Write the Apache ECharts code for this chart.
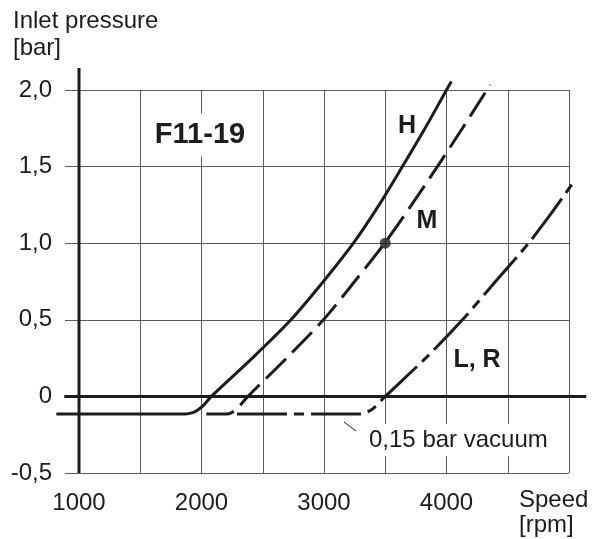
<!DOCTYPE html>
<html>
<head>
<meta charset="utf-8">
<script src="https://cdn.jsdelivr.net/npm/echarts@6/dist/echarts.min.js"></script>
<style>
  html, body { margin: 0; padding: 0; background: #fff; }
  #chart { width: 595px; height: 539px; }
</style>
</head>
<body>
<div id="chart"></div>
<script>
// values
const xTicks = [1000, 2000, 3000, 4000];
const xTickLabels = ['1000', '2000', '3000', '4000'];
const yTicks = [-0.5, 0, 0.5, 1.0, 1.5, 2.0];
const yTickLabels = ['-0,5', '0', '0,5', '1,0', '1,5', '2,0'];

// curve H (solid)
const hSpeed = [815, 1870, 1920, 1970, 2020, 2080, 2415, 2730, 2995, 3240, 3450, 3640, 3825, 4000, 4040];
const hPressure = [-0.115, -0.115, -0.108, -0.088, -0.055, 0, 0.25, 0.5, 0.75, 1.0, 1.25, 1.5, 1.75, 2.0, 2.055];

// curve M (dashed)
const mSpeed = [2040, 2200, 2250, 2300, 2379, 2695, 2995, 3250, 3495, 3715, 3925, 4130, 4330, 4358];
const mPressure = [-0.115, -0.115, -0.104, -0.072, 0, 0.25, 0.5, 0.75, 1.0, 1.25, 1.5, 1.75, 2.0, 2.033];

// curve L, R (dash-dot)
const lrSpeed = [2290, 3290, 3340, 3400, 3500, 3830, 4130, 4400, 4670, 4860, 5035];
const lrPressure = [-0.115, -0.115, -0.106, -0.08, 0, 0.25, 0.5, 0.75, 1.0, 1.2, 1.396];

// operating point on M
const pointSpeed = [3500];
const pointPressure = [1.0];

// zero line and vertical axis line
const zeroLineSpeed = [880, 5141];
const zeroLinePressure = [0, 0];
const axisLineSpeed = [1000, 1000];
const axisLinePressure = [-0.5, 2.144];

const zip = (xs, ys) => xs.map((x, i) => [x, ys[i]]);

const FONT = 'Liberation Sans, Arial, Helvetica, sans-serif';
const INK = '#1c1c1c';
const GRID = '#5a5a5a';

const chart = echarts.init(document.getElementById('chart'));

// grid 0 draws the visible axes; grid 1 has the same scale but a wider range,
// so the curves can run past the framed area like in the original sheet
const option = {
  animation: false,
  backgroundColor: '#fff',
  grid: [
    { left: 79, right: 26, top: 90, bottom: 66 },
    { left: 54.5, right: 1.5, top: 13.4, bottom: 66 }
  ],
  xAxis: [
    {
      gridIndex: 0,
      type: 'value',
      min: 1000,
      max: 5000,
      interval: 500,
      axisLine: { show: false },
      axisTick: { show: false },
      axisLabel: {
        margin: 18,
        fontSize: 24,
        fontFamily: FONT,
        color: INK,
        formatter: function (v) {
          const i = xTicks.indexOf(v);
          return i >= 0 ? xTickLabels[i] : '';
        }
      },
      splitLine: { show: true, lineStyle: { color: GRID, width: 1 } }
    },
    {
      gridIndex: 1,
      type: 'value',
      min: 800,
      max: 5200,
      show: false
    }
  ],
  yAxis: [
    {
      gridIndex: 0,
      type: 'value',
      min: -0.5,
      max: 2.0,
      interval: 0.5,
      axisLine: { show: false },
      axisTick: { show: true, length: 14, lineStyle: { color: GRID, width: 1 } },
      axisLabel: {
        margin: 27,
        fontSize: 24,
        fontFamily: FONT,
        color: INK,
        formatter: function (v) {
          const i = yTicks.findIndex(t => Math.abs(t - v) < 1e-6);
          return i >= 0 ? yTickLabels[i] : '';
        }
      },
      splitLine: { show: true, lineStyle: { color: GRID, width: 1 } }
    },
    {
      gridIndex: 1,
      type: 'value',
      min: -0.5,
      max: 2.5,
      show: false
    }
  ],
  series: [
    {
      name: 'zero',
      type: 'line',
      xAxisIndex: 1, yAxisIndex: 1,
      data: zip(zeroLineSpeed, zeroLinePressure),
      showSymbol: false,
      lineStyle: { color: INK, width: 3 },
      z: 3
    },
    {
      name: 'axis',
      type: 'line',
      xAxisIndex: 1, yAxisIndex: 1,
      data: zip(axisLineSpeed, axisLinePressure),
      showSymbol: false,
      lineStyle: { color: INK, width: 3 },
      z: 3
    },
    {
      name: 'H',
      type: 'line',
      xAxisIndex: 1, yAxisIndex: 1,
      data: zip(hSpeed, hPressure),
      showSymbol: false,
      smooth: 0.3,
      lineStyle: { color: INK, width: 3 },
      z: 4
    },
    {
      name: 'M',
      type: 'line',
      xAxisIndex: 1, yAxisIndex: 1,
      data: zip(mSpeed, mPressure),
      showSymbol: false,
      smooth: 0.3,
      lineStyle: { color: INK, width: 3, type: [28, 9] },
      z: 4
    },
    {
      name: 'L, R',
      type: 'line',
      xAxisIndex: 1, yAxisIndex: 1,
      data: zip(lrSpeed, lrPressure),
      showSymbol: false,
      smooth: 0.3,
      lineStyle: { color: INK, width: 3, type: [50, 7, 10, 7] },
      z: 4
    },
    {
      name: 'point',
      type: 'scatter',
      xAxisIndex: 1, yAxisIndex: 1,
      data: zip(pointSpeed, pointPressure),
      symbolSize: 11,
      itemStyle: { color: INK },
      z: 5
    }
  ],
  graphic: [
    {
      type: 'text', left: 13, top: 8, z: 10,
      style: { text: 'Inlet pressure\n[bar]', font: '24px ' + FONT, fill: INK, lineHeight: 27 }
    },
    {
      type: 'text', left: 519, top: 488, z: 10,
      style: { text: 'Speed\n[rpm]', font: '24px ' + FONT, fill: INK, lineHeight: 25 }
    },
    {
      type: 'text', x: 200, y: 135, z: 10,
      style: {
        text: 'F11-19', font: 'bold 29px ' + FONT, fill: INK,
        align: 'center', verticalAlign: 'middle',
        backgroundColor: '#fff', padding: [7, 2]
      }
    },
    {
      type: 'text', x: 407, y: 126, z: 10,
      style: { text: 'H', font: 'bold 25px ' + FONT, fill: INK, align: 'center', verticalAlign: 'middle' }
    },
    {
      type: 'text', x: 427, y: 221, z: 10,
      style: { text: 'M', font: 'bold 25px ' + FONT, fill: INK, align: 'center', verticalAlign: 'middle' }
    },
    {
      type: 'text', x: 477, y: 360, z: 10,
      style: { text: 'L, R', font: 'bold 25px ' + FONT, fill: INK, align: 'center', verticalAlign: 'middle' }
    },
    {
      type: 'text', x: 367, y: 440, z: 10,
      style: {
        text: '0,15 bar vacuum', font: '24px ' + FONT, fill: INK,
        align: 'left', verticalAlign: 'middle',
        backgroundColor: '#fff', padding: [4, 2]
      }
    },
    {
      type: 'line', z: 10,
      shape: { x1: 344, y1: 422, x2: 356, y2: 431 },
      style: { stroke: INK, lineWidth: 1 }
    }
  ]
};

chart.setOption(option);
</script>
</body>
</html>
